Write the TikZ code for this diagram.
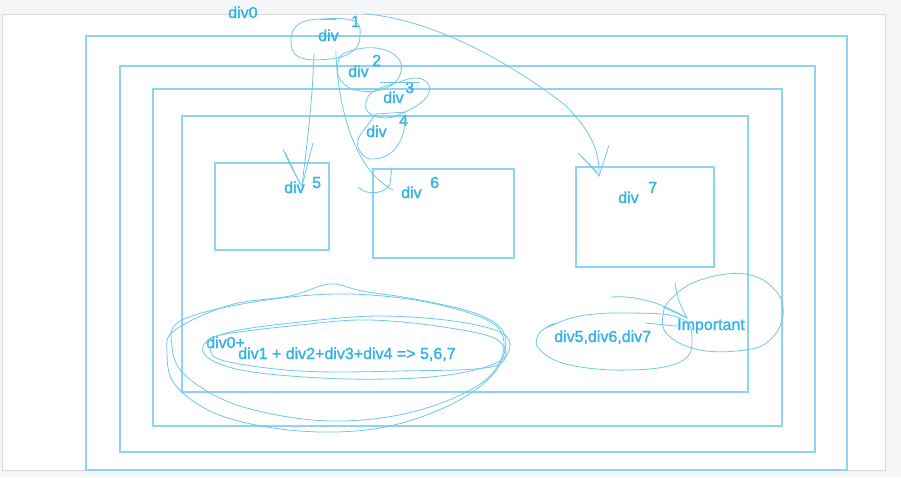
\documentclass[tikz,border=0pt]{standalone}
\usepackage{fontspec}
\setmainfont{Liberation Sans}
\newfontfamily\penfont[FakeBold=1.3]{Liberation Sans}
\definecolor{pen}{RGB}{140,212,242}
\definecolor{scribble}{RGB}{110,200,236}
\definecolor{ink}{RGB}{50,178,230}
\definecolor{page}{RGB}{245,246,248}
\definecolor{pageedge}{RGB}{215,217,220}
\tikzset{
  box/.style={draw=pen, line width=1.3pt},
  loopline/.style={draw=scribble, line width=0.8pt},
  lbl/.style={text=ink, anchor=base west, inner sep=0pt, font=\penfont\fontsize{16}{18}\selectfont},
}
\begin{document}
\begin{tikzpicture}[x=1pt,y=-1pt]
\fill [page] (0,0) rectangle (901,477);
\filldraw [fill=white, draw=pageedge] (2,14) rectangle (885,470);
\useasboundingbox (0,0) rectangle (901,477);

% nested divs
\draw [box] (86,36) rectangle (847,470);
\draw [box] (120,66) rectangle (815,452);
\draw [box] (153,89) rectangle (782,426);
\draw [box] (182,116) rectangle (748,392);
\draw [box] (215,163) rectangle (329,250);
\draw [box] (373,169) rectangle (514,258);
\draw [box] (576,167) rectangle (714,267);

% labels
\node (div0) [lbl] at (228,18) {div0};
\node (d1) [lbl] at (318,41) {div};
\node (n1) [lbl] at (351,27) {1};
\node (d2) [lbl] at (348,77) {div};
\node (n2) [lbl] at (372,66) {2};
\node (d3) [lbl] at (383,103) {div};
\node (n3) [lbl] at (405,93) {3};
\node (d4) [lbl] at (366,137) {div};
\node (n4) [lbl] at (399,126) {4};
\node (d5) [lbl] at (284,193) {div};
\node (n5) [lbl] at (312,188) {5};
\node (d6) [lbl] at (401,198) {div};
\node (n6) [lbl] at (430,188) {6};
\node (d7) [lbl] at (618,203) {div};
\node (n7) [lbl] at (648,193) {7};
\node (sum0) [lbl] at (206,348) {div0+};
\node (sum) [lbl] at (238,359) {div1 + div2+div3+div4 => 5,6,7};
\node (kids) [lbl] at (554,342) {div5,div6,div7};
\node (imp) [lbl] at (677,330) {Important};

% loops round the divs
\draw [loopline] (320,19) -- (336,19);
\draw [loopline] plot [smooth cycle, tension=0.7] coordinates {(322,19) (354,21) (360,36) (353,51) (330,59) (299,57) (291,40) (299,24)};
\draw [loopline] plot [smooth cycle, tension=0.7] coordinates {(347,52) (376,48) (398,58) (400,75) (386,88) (360,91) (341,81) (338,63)};
\draw [loopline] (380,82) -- (420,82);
\draw [loopline] plot [smooth cycle, tension=0.7] coordinates {(376,90) (396,83) (416,78) (429,85) (425,99) (405,112) (385,118) (368,112) (367,99)};
\draw [loopline] (376,114) -- (406,112);
\draw [loopline] plot [smooth, tension=0.7] coordinates {(376,114) (370,122) (358,140) (362,154) (374,159) (392,152) (403,134) (404,116)};

% div1 to div5
\coordinate (t5) at (302,186);
\draw [loopline] (d1.south west) ++(-4,12) .. controls (312,110) and (306,150) .. (t5);
\draw [loopline] (283,149) .. controls (290,165) .. (t5) -- (313,143);
\draw [loopline] (285,152) -- (300,184);
% div1 to div6
\coordinate (t6) at (393,190);
\draw [loopline] (d1.south east) ++(-3,10) .. controls (338,110) and (355,170) .. (t6);
\draw [loopline] (358,187) .. controls (366,196) and (386,194) .. (390,184) -- (392,167);
% div1 to div7
\coordinate (t7) at (599,176);
\draw [loopline] (n1.north east) ++(4,-2) .. controls (440,20) and (520,70) .. (565,105)
  .. controls (590,130) and (600,150) .. (t7);
\draw [loopline] (578,153) .. controls (590,165) .. (t7) -- (609,145);
\draw [loopline] (582,157) -- (597,172);

% loops round the sum
\draw [loopline] plot [smooth cycle, tension=0.6] coordinates {(175,330) (230,305) (290,296) (330,284) (362,291) (420,300) (480,315) (505,336) (495,372) (450,405) (380,428) (300,431) (222,416) (176,386) (167,352)};
\draw [loopline] plot [smooth cycle, tension=0.6] coordinates {(182,320) (260,301) (350,294) (440,305) (500,330) (490,376) (420,410) (330,421) (240,406) (186,376) (172,346)};
\draw [loopline] plot [smooth cycle, tension=0.6] coordinates {(203,346) (230,332) (300,322) (380,316) (460,322) (506,336) (500,361) (440,376) (350,379) (260,373) (215,362)};
\draw [loopline] plot [smooth cycle, tension=0.6] coordinates {(216,336) (300,325) (370,320) (450,328) (499,341) (495,366) (400,371) (300,371) (225,361) (210,349)};

% loops round div5-7 and Important
\draw [loopline] plot [smooth, tension=0.7] coordinates {(555,323) (548,327) (580,316) (630,313) (680,318) (692,340) (680,362) (630,370) (570,365) (540,350) (538,335) (548,327)};
\draw [loopline] plot [smooth cycle, tension=0.7] coordinates {(672,298) (700,280) (745,274) (775,290) (783,315) (770,340) (745,350) (700,350) (668,335) (663,315)};
\coordinate (ti) at (687,318);
\draw [loopline] (611,297) .. controls (640,295) and (665,305) .. (ti);
\draw [loopline] (675,283) .. controls (678,300) .. (ti) -- (663,307);
\draw [loopline] (645,323) -- (imp.west);
\end{tikzpicture}
\end{document}
